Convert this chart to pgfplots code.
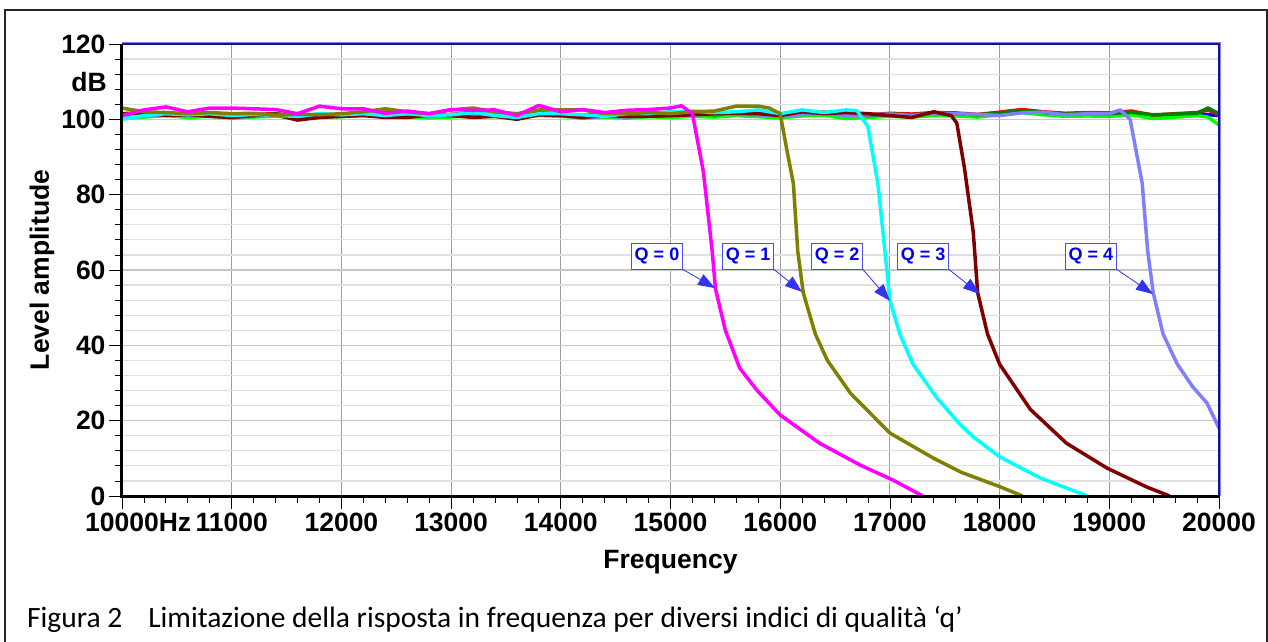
\documentclass[border=0pt]{standalone}
\usepackage{fontspec}
\setmainfont{Liberation Sans}
\newfontfamily\capfont{Carlito}
\usepackage{pgfplots}
\pgfplotsset{compat=1.18}
\usetikzlibrary{arrows.meta}

\definecolor{olivec}{RGB}{128,128,0}
\definecolor{maroonc}{RGB}{128,0,0}
\definecolor{lavb}{RGB}{128,128,255}
\definecolor{dkgreen}{RGB}{0,128,0}
\definecolor{navyc}{RGB}{20,20,130}
\definecolor{qblue}{RGB}{0,0,235}
\definecolor{purecyan}{RGB}{0,255,255}
\definecolor{puremag}{RGB}{255,0,255}
\definecolor{puregreen}{RGB}{0,255,0}
\definecolor{pureblue}{RGB}{0,0,255}
\definecolor{purered}{RGB}{255,0,0}

\newcommand{\bigbf}{\bfseries\fontsize{26.5bp}{28bp}\selectfont}

\begin{document}
\begin{tikzpicture}
\useasboundingbox (-122bp,-146bp) rectangle (1146bp,496bp);
\begin{axis}[
  at={(0,0)}, anchor=south west,
  scale only axis, width=1097bp, height=452bp,
  xmin=10000, xmax=20000, ymin=0, ymax=120,
  xtick={10000,11000,...,20000},
  xticklabels={10000\rlap{Hz},11000,12000,13000,14000,15000,16000,17000,18000,19000,20000},
  scaled x ticks=false,
  ytick={0,20,...,120},
  yticklabels={0,20,40,60,80,100,120},
  minor x tick num=4, minor y tick num=4,
  tick pos=left, tick align=outside,
  major tick length=13bp, minor tick length=7bp,
  tick style={black, line width=0.8bp},
  tick label style={font=\bigbf},
  xmajorgrids, ymajorgrids, yminorgrids,
  major x grid style={color=black!38, line width=1bp},
  major y grid style={color=black!22, line width=1.6bp},
  minor y grid style={color=black!12, line width=1.2bp},
  axis line style={draw=none},
  xlabel={Frequency}, ylabel={Level amplitude},
  label style={font=\bigbf},
  xlabel style={at={(axis description cs:0.5,-0.146)}, anchor=center},
  ylabel style={at={(axis description cs:-0.0729,0.5)}, anchor=center},
  clip mode=individual,
  every axis plot/.append style={line width=3.5bp, line join=round},
]
% flat references
\addplot[pureblue] coordinates {(10000,100.5)(10200,101.2)(10400,101.5)(10600,101.0)(10800,101.3)(11000,100.8)(11200,100.9)(11400,101.3)(11600,100.6)(11800,100.7)(12000,101.0)(12200,101.4)(12400,101.6)(12600,101.1)(12800,100.8)(13000,101.0)(13200,101.5)(13400,101.2)(13600,100.9)(13800,101.4)(14000,101.2)(14200,100.8)(14400,101.0)(14600,100.9)(14800,101.2)(15000,101.0)(15200,101.3)(15400,101.1)(15600,101.5)(15800,101.2)(16000,101.0)(16200,101.4)(16400,101.6)(16600,101.2)(16800,100.9)(17000,101.3)(17200,101.1)(17400,101.5)(17600,101.4)(17800,101.0)(18000,101.5)(18200,102.0)(18400,101.6)(18600,101.3)(18800,101.5)(19000,101.4)(19200,101.6)(19400,100.8)(19600,101.2)(19800,101.5)(20000,101.0)};
\addplot[purered] coordinates {(10000,101.0)(10200,101.5)(10400,101.8)(10600,101.2)(10800,101.6)(11000,101.1)(11200,101.3)(11400,101.5)(11600,100.9)(11800,101.0)(12000,101.3)(12200,101.6)(12400,101.9)(12600,101.4)(12800,101.1)(13000,101.3)(13200,101.8)(13400,101.5)(13600,101.2)(13800,101.7)(14000,101.5)(14200,101.1)(14400,101.3)(14600,101.2)(14800,101.5)(15000,101.3)(15200,101.6)(15400,101.4)(15600,101.8)(15800,101.5)(16000,101.3)(16200,101.7)(16400,101.9)(16600,101.5)(16800,101.2)(17000,101.6)(17200,101.4)(17400,101.8)(17600,101.7)(17800,101.3)(18000,101.9)(18200,102.6)(18400,102.0)(18600,101.6)(18800,101.8)(19000,101.7)(19200,102.2)(19400,101.1)(19600,101.5)(19800,101.8)(19900,102.5)(20000,101.2)};
\addplot[puregreen] coordinates {(10000,100.2)(10200,100.6)(10400,101.0)(10600,100.5)(10800,100.8)(11000,100.3)(11200,100.6)(11400,100.9)(11600,100.2)(11800,100.5)(12000,100.7)(12200,101.0)(12400,101.2)(12600,100.6)(12800,100.4)(13000,100.6)(13200,101.0)(13400,100.7)(13600,100.4)(13800,101.0)(14000,100.8)(14200,100.4)(14400,100.6)(14600,100.3)(14800,100.7)(15000,100.5)(15200,100.8)(15400,100.6)(15600,101.0)(15800,100.7)(16000,100.4)(16200,100.9)(16400,101.1)(16600,100.2)(16800,100.5)(17000,100.8)(17200,100.6)(17400,101.0)(17600,100.9)(17800,100.6)(18000,101.2)(18200,101.8)(18400,101.2)(18600,100.8)(18800,100.9)(19000,100.8)(19200,101.2)(19400,100.2)(19600,100.6)(19800,101.0)(19900,100.6)(20000,98.5)};
\addplot[dkgreen] coordinates {(10000,100.8)(10200,101.3)(10400,101.4)(10600,101.1)(10800,101.4)(11000,100.9)(11200,101.1)(11400,101.4)(11600,100.8)(11800,100.9)(12000,101.2)(12200,101.5)(12400,101.7)(12600,101.2)(12800,101.0)(13000,101.1)(13200,101.6)(13400,101.3)(13600,101.0)(13800,101.5)(14000,101.3)(14200,101.0)(14400,101.2)(14600,101.0)(14800,101.3)(15000,101.1)(15200,101.4)(15400,101.2)(15600,101.6)(15800,101.3)(16000,101.1)(16200,101.5)(16400,101.7)(16600,101.3)(16800,101.0)(17000,101.4)(17200,101.2)(17400,101.6)(17600,101.5)(17800,101.2)(18000,101.7)(18200,102.3)(18400,101.8)(18600,101.4)(18800,101.6)(19000,101.5)(19200,101.9)(19400,101.2)(19600,101.4)(19800,101.6)(19900,103.0)(20000,101.5)};
% Q = 4
\addplot[lavb] coordinates {(10000,100.5)(10200,100.8)(10400,101.4)(10600,101.2)(10800,100.9)(11000,100.5)(11200,100.8)(11400,101.2)(11600,100.6)(11800,101.0)(12000,101.2)(12200,101.5)(12400,101.3)(12600,101.0)(12800,100.7)(13000,101.0)(13200,101.3)(13400,101.6)(13600,100.8)(13800,101.2)(14000,101.0)(14200,100.3)(14400,100.8)(14600,100.6)(14800,101.0)(15000,100.8)(15200,101.2)(15400,101.5)(15600,101.3)(15800,101.2)(16000,100.8)(16200,101.3)(16400,101.6)(16600,101.0)(16800,101.2)(17000,101.4)(17200,101.0)(17400,101.6)(17600,101.5)(17800,101.3)(18000,101.0)(18200,101.7)(18400,101.9)(18600,101.2)(18800,101.5)(19000,101.5)(19100,102.5)(19190,100.0)(19300,83)(19350,65)(19400,54)(19490,43)(19620,35)(19760,29)(19890,24.7)(20000,18)};
% Q = 3
\addplot[maroonc] coordinates {(10000,101.5)(10200,101.8)(10400,101.0)(10600,101.2)(10800,100.8)(11000,100.5)(11200,101.0)(11400,101.2)(11600,99.8)(11800,100.5)(12000,100.8)(12200,101.0)(12400,100.5)(12600,100.5)(12800,101.2)(13000,101.0)(13200,100.5)(13400,100.8)(13600,100.0)(13800,101.2)(14000,101.0)(14200,100.5)(14400,101.0)(14600,100.8)(14800,100.8)(15000,101.0)(15200,101.2)(15400,101.5)(15600,101.6)(15800,101.5)(16000,101.0)(16200,102.0)(16400,101.5)(16600,101.8)(16800,101.5)(17000,101.0)(17200,100.5)(17400,102.0)(17560,101.0)(17610,99)(17680,87)(17760,70)(17800,54)(17890,43)(18000,35)(18280,23)(18610,14)(18980,7.4)(19340,2.4)(19550,0)};
% Q = 2
\addplot[purecyan] coordinates {(10000,100.0)(10200,101.0)(10400,101.5)(10600,101.2)(10800,101.5)(11000,101.0)(11200,101.3)(11400,101.0)(11600,100.8)(11800,101.5)(12000,101.2)(12200,101.5)(12400,101.0)(12600,101.5)(12800,101.0)(13000,101.2)(13200,101.8)(13400,101.0)(13600,100.5)(13800,101.5)(14000,101.5)(14200,101.2)(14400,100.8)(14600,101.5)(14800,101.5)(15000,102.0)(15200,102.2)(15400,101.8)(15600,102.0)(15800,102.5)(16000,101.5)(16200,102.5)(16400,101.8)(16600,102.5)(16700,102.3)(16800,98)(16890,83)(16955,65)(17000,52)(17090,43)(17210,35)(17430,26)(17640,19)(17760,15.7)(18000,10.4)(18370,4.8)(18800,0)};
% Q = 1
\addplot[olivec] coordinates {(10000,103.0)(10200,102.0)(10400,101.8)(10600,101.5)(10800,101.8)(11000,101.5)(11200,101.6)(11400,101.0)(11600,101.4)(11800,101.2)(12000,101.5)(12200,102.0)(12400,102.8)(12600,102.0)(12800,101.5)(13000,102.5)(13200,103.0)(13400,102.0)(13600,101.5)(13800,102.5)(14000,102.5)(14200,102.5)(14400,101.5)(14600,101.5)(14800,101.8)(15000,101.5)(15200,102.0)(15400,102.2)(15600,103.5)(15800,103.5)(15900,103.0)(16000,101.5)(16060,92)(16120,83)(16160,65)(16210,54)(16320,43)(16430,36)(16640,27.3)(17000,16.7)(17400,10)(17650,6.3)(18000,2.5)(18210,0)};
% Q = 0
\addplot[puremag] coordinates {(10000,101.0)(10200,102.5)(10400,103.3)(10600,102.0)(10800,103.0)(11000,103.0)(11200,102.8)(11400,102.6)(11600,101.5)(11800,103.5)(12000,102.8)(12200,102.8)(12400,101.6)(12600,102.2)(12800,101.5)(13000,102.6)(13200,102.4)(13400,102.5)(13600,101.0)(13800,103.7)(14000,102.0)(14200,102.6)(14400,101.8)(14600,102.4)(14800,102.6)(15000,103.0)(15100,103.6)(15200,101.5)(15300,86)(15380,65)(15410,55)(15500,44)(15630,34)(15790,28)(16000,21.5)(16360,14)(16730,8.2)(17030,4.2)(17300,0)};

% axis frame
\draw[lavb, line width=1bp] ([yshift=1.8bp]rel axis cs:0,1) -- ([xshift=1.8bp,yshift=1.8bp]rel axis cs:1,1) -- ([xshift=1.8bp]rel axis cs:1,0);
\draw[navyc, line width=2.5bp] (rel axis cs:0,1) -- (rel axis cs:1,1) -- (rel axis cs:1,0);
\draw[black, line width=3bp] (rel axis cs:0,1) -- (rel axis cs:0,0) -- (rel axis cs:1,0);
\node[anchor=east, font=\bigbf, inner sep=0pt] at ([xshift=-15bp]rel axis cs:0,0.9167) {dB};

% annotations
\tikzset{qbox/.style={draw=qblue!70, fill=white, line width=0.8bp, text=qblue,
  font=\bfseries\fontsize{18bp}{20bp}\selectfont, minimum width=51bp, minimum height=26bp, inner sep=2bp},
  qarr/.style={qblue!80, line width=0.8bp, -{Triangle[length=17bp,width=12bp]}}}
\node[qbox] (q0) at (axis cs:14877,63.7) {Q = 0};
\draw[qarr] (q0.south east) -- (axis cs:15406,55.2);
\node[qbox] (q1) at (axis cs:15707,63.7) {Q = 1};
\draw[qarr] (q1.south east) -- (axis cs:16199,54.2);
\node[qbox] (q2) at (axis cs:16518,63.7) {Q = 2};
\draw[qarr] (q2.south east) -- (axis cs:17001,51.8);
\node[qbox] (q3) at (axis cs:17302,63.7) {Q = 3};
\draw[qarr] (q3.south east) -- (axis cs:17821,53.6);
\node[qbox] (q4) at (axis cs:18833,63.7) {Q = 4};
\draw[qarr] (q4.south east) -- (axis cs:19398,53.6);
\end{axis}
% outer frame and caption
\draw[black!85, line width=2bp] (-117bp,-160bp) -- (-117bp,486bp) -- (1144.5bp,486bp) -- (1144.5bp,-160bp);
\node[anchor=base west, inner sep=0pt, font=\capfont\fontsize{29.5bp}{31bp}\selectfont] at (-95bp,-131bp)
  {Figura 2\hspace{26bp}Limitazione della risposta in frequenza per diversi indici di qualità ‘q’};
\end{tikzpicture}
\end{document}
